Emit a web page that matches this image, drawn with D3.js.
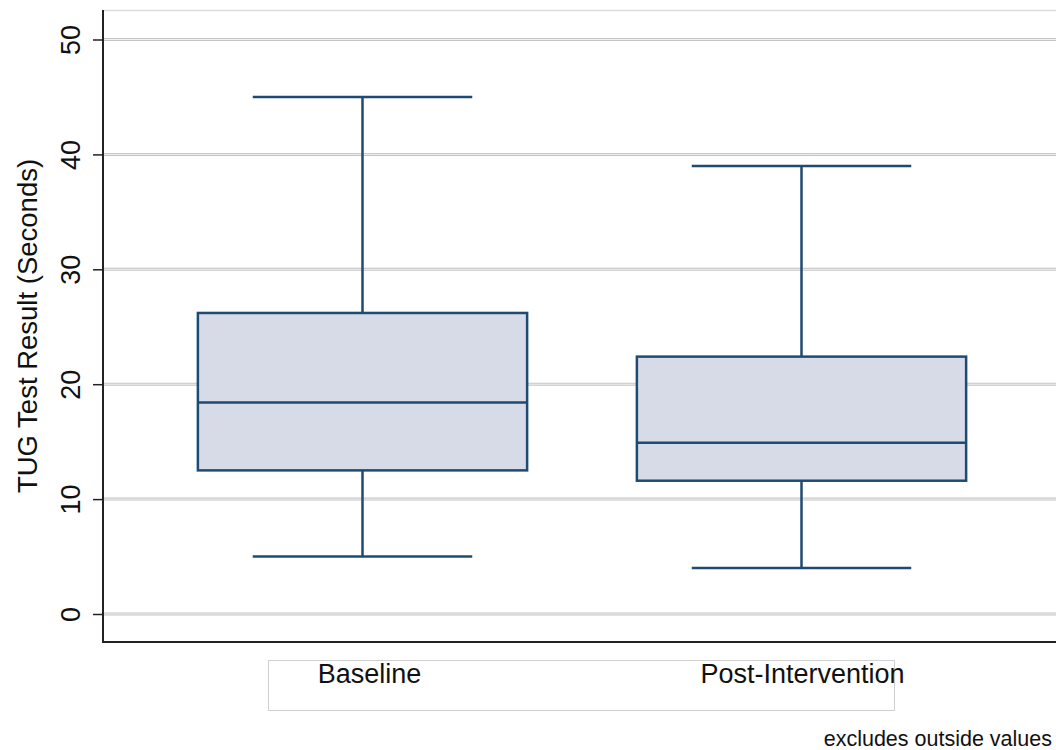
<!DOCTYPE html>
<html>
<head>
<meta charset="utf-8">
<script src="https://cdn.jsdelivr.net/npm/d3@7"></script>
<style>
	body { margin: 0; background: #fff; }
	svg { display: block; font-family: "Liberation Sans", Arial, sans-serif; }
</style>
</head>
<body>
<svg id="chart" width="1056" height="750"></svg>
<script>
const categories = ["Baseline", "Post-Intervention"];
const lowerWhisker = [5, 4];
const q1 = [12.5, 11.6];
const median = [18.4, 14.9];
const q3 = [26.2, 22.4];
const upperWhisker = [45, 39];
const yTicks = [0, 10, 20, 30, 40, 50];

const boxes = categories.map((c, i) => ({
	name: c,
	lo: lowerWhisker[i],
	q1: q1[i],
	med: median[i],
	q3: q3[i],
	hi: upperWhisker[i],
}));

const svg = d3.select("#chart");
const plot = { left: 103, top: 11, right: 1056, bottom: 642 };
const boxColor = "#1f4a72";

const y = d3.scaleLinear().domain([0, 50]).range([614, 39.5]);

const x = d3
	.scaleBand()
	.domain(categories)
	.range([143, 1021])
	.paddingInner(0.25)
	.paddingOuter(0.125);

// top border of plot region
svg.append("line")
	.attr("x1", plot.left).attr("x2", plot.right)
	.attr("y1", plot.top - 0.5).attr("y2", plot.top - 0.5)
	.attr("stroke", "#dcdcdc").attr("stroke-width", 1.5);

// grid (double line look)
const grid = svg.append("g");
grid.selectAll(".g-outer")
	.data(yTicks)
	.join("line")
	.attr("x1", plot.left).attr("x2", plot.right)
	.attr("y1", (d) => y(d)).attr("y2", (d) => y(d))
	.attr("stroke", "#c4c4c4").attr("stroke-width", 3);
grid.selectAll(".g-inner")
	.data(yTicks)
	.join("line")
	.attr("x1", plot.left).attr("x2", plot.right)
	.attr("y1", (d) => y(d)).attr("y2", (d) => y(d))
	.attr("stroke", "#f2f2f2").attr("stroke-width", 1);

// boxes
const g = svg.append("g");
boxes.forEach((b) => {
	const cx = x(b.name) + x.bandwidth() / 2;
	const bw = x.bandwidth();
	const capW = bw * 2 / 3;

	g.append("line")
		.attr("x1", cx).attr("x2", cx)
		.attr("y1", y(b.hi)).attr("y2", y(b.q3))
		.attr("stroke", boxColor).attr("stroke-width", 2.5);
	g.append("line")
		.attr("x1", cx).attr("x2", cx)
		.attr("y1", y(b.q1)).attr("y2", y(b.lo))
		.attr("stroke", boxColor).attr("stroke-width", 2.5);
	g.append("line")
		.attr("x1", cx - capW / 2).attr("x2", cx + capW / 2)
		.attr("y1", y(b.hi)).attr("y2", y(b.hi))
		.attr("stroke", boxColor).attr("stroke-width", 2.5);
	g.append("line")
		.attr("x1", cx - capW / 2).attr("x2", cx + capW / 2)
		.attr("y1", y(b.lo)).attr("y2", y(b.lo))
		.attr("stroke", boxColor).attr("stroke-width", 2.5);
	g.append("rect")
		.attr("x", x(b.name)).attr("width", bw)
		.attr("y", y(b.q3)).attr("height", y(b.q1) - y(b.q3))
		.attr("fill", "#d7dbe7")
		.attr("stroke", boxColor).attr("stroke-width", 2.5);
	g.append("line")
		.attr("x1", x(b.name)).attr("x2", x(b.name) + bw)
		.attr("y1", y(b.med)).attr("y2", y(b.med))
		.attr("stroke", boxColor).attr("stroke-width", 2.5);
});

// y axis
const yAxis = svg.append("g")
	.attr("transform", `translate(${plot.left},0)`)
	.call(d3.axisLeft(y).tickValues(yTicks).tickSize(10).tickPadding(0).tickFormat(d3.format("d")));
yAxis.select(".domain").remove();
yAxis.selectAll(".tick line").attr("stroke", "#222").attr("stroke-width", 1.5);
yAxis.selectAll(".tick text")
	.attr("transform", "rotate(-90)")
	.attr("x", 0)
	.attr("y", -23)
	.attr("dy", 0)
	.attr("text-anchor", "middle")
	.attr("font-size", 27)
	.attr("fill", "#111");

svg.append("line")
	.attr("x1", plot.left).attr("x2", plot.left)
	.attr("y1", plot.top - 1).attr("y2", plot.bottom + 1)
	.attr("stroke", "#222").attr("stroke-width", 2);
svg.append("line")
	.attr("x1", plot.left - 1).attr("x2", plot.right)
	.attr("y1", plot.bottom).attr("y2", plot.bottom)
	.attr("stroke", "#222").attr("stroke-width", 2);

svg.append("text")
	.attr("transform", "translate(37,326) rotate(-90)")
	.attr("text-anchor", "middle")
	.attr("font-size", 27.5)
	.attr("fill", "#111")
	.text("TUG Test Result (Seconds)");

// category key box
svg.append("rect")
	.attr("x", 268.5).attr("y", 660.5)
	.attr("width", 626).attr("height", 50)
	.attr("fill", "none").attr("stroke", "#d0d0d0").attr("stroke-width", 1);

svg.selectAll(".cat")
	.data(categories)
	.join("text")
	.attr("x", (d) => x(d) + x.bandwidth() / 2 + (d === "Baseline" ? 7 : 1))
	.attr("y", 683)
	.attr("text-anchor", "middle")
	.attr("font-size", 27)
	.attr("fill", "#111")
	.text((d) => d);

svg.append("text")
	.attr("x", 1052)
	.attr("y", 746)
	.attr("text-anchor", "end")
	.attr("font-size", 21.5)
	.attr("fill", "#111")
	.text("excludes outside values");
</script>
</body>
</html>
